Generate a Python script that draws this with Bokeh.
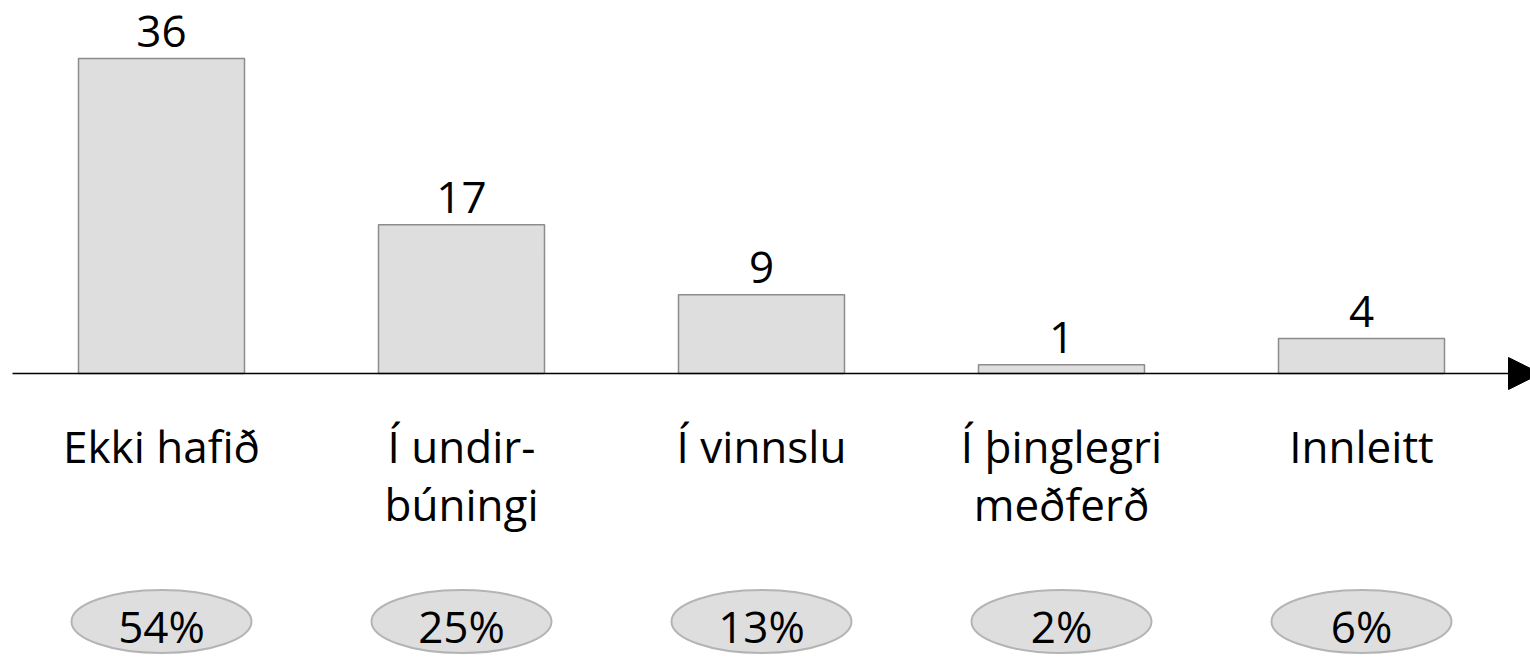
from bokeh.plotting import figure
from bokeh.models import Range1d, Arrow, NormalHead
from bokeh.core.properties import value
from bokeh.embed import file_html
from bokeh.resources import INLINE

categories = ["Ekki hafið", "Í undir-\nbúningi", "Í vinnslu", "Í þinglegri\nmeðferð", "Innleitt"]
counts = [36, 17, 9, 1, 4]
percents = ["54%", "25%", "13%", "2%", "6%"]

W, H = 1530, 657
PX_X = 300.0      # pixels per category slot
PX_Y = 8.75       # pixels per count unit
BASE = 373.0      # screen y of the zero line
SHIFT = 17.0      # renderer places alphabetic text this much lower
x0 = -161.0 / PX_X
y_top = BASE / PX_Y

def sx(px):  # screen-x to data
    return x0 + px / PX_X

def sy(py):  # screen-y to data
    return y_top - py / PX_Y

p = figure(width=W, height=H, output_backend="svg", toolbar_location=None,
           x_range=Range1d(x0, x0 + W / PX_X), y_range=Range1d(y_top - H / PX_Y, y_top),
           min_border=0)
p.axis.visible = False
p.grid.visible = False
p.outline_line_color = None
p.background_fill_color = "white"

xs = list(range(len(categories)))
FONT = value("Open Sans")
FS = "44px"

p.vbar(x=xs, top=counts, bottom=0, width=166 / PX_X, fill_color="#dedede",
       line_color="#8c8c8c", line_width=1.5)

p.add_layout(Arrow(end=NormalHead(size=32, fill_color="black", line_color="black"),
                   x_start=sx(12), y_start=0, x_end=sx(1540), y_end=0,
                   line_color="black", line_width=1.5))

p.text(x=xs, y=[c + (10 + SHIFT) / PX_Y for c in counts], text=[str(c) for c in counts],
       text_align="center", text_baseline="alphabetic", text_font=FONT,
       text_font_size=FS, text_color="black")

line1 = [c.split("\n")[0] for c in categories]
line2 = [c.split("\n")[1] if "\n" in c else "" for c in categories]
p.text(x=xs, y=[sy(462 - SHIFT)] * len(xs), text=line1, text_align="center",
       text_baseline="alphabetic", text_font=FONT,
       text_font_size=FS, text_color="black")
p.text(x=xs, y=[sy(520 - SHIFT)] * len(xs), text=line2, text_align="center",
       text_baseline="alphabetic", text_font=FONT,
       text_font_size=FS, text_color="black")

p.ellipse(x=xs, y=[sy(621)] * len(xs), width=180, height=63, width_units="screen",
          height_units="screen", fill_color="#dedede", line_color="#b4b4b4",
          line_width=2)
p.text(x=xs, y=[sy(642 - SHIFT)] * len(xs), text=percents, text_align="center",
       text_baseline="alphabetic", text_font=FONT,
       text_font_size=FS, text_color="black")

open("out.html", "w").write(file_html(p, INLINE))
